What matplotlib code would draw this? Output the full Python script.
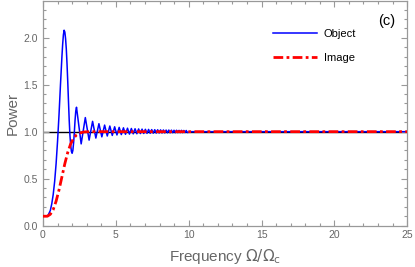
import numpy as np
import matplotlib
matplotlib.use("Agg")
import matplotlib.pyplot as plt
from matplotlib.ticker import MultipleLocator

# object: main lobe, then the fringe extrema
obj_x_start = [0.0, 0.2, 0.35, 0.5, 0.6, 0.7, 0.8, 0.9, 1.0, 1.1, 1.2, 1.25, 1.3, 1.35, 1.4, 1.45,
               1.5, 1.55, 1.6, 1.65, 1.7, 1.75, 1.8, 1.85, 1.9, 1.95, 2.0, 2.05, 2.1, 2.15, 2.2, 2.25]
obj_y_start = [0.10, 0.10, 0.11, 0.16, 0.23, 0.33, 0.47, 0.66, 0.90, 1.18, 1.50, 1.65, 1.80, 1.93, 2.03, 2.08,
               2.06, 1.99, 1.88, 1.72, 1.53, 1.32, 1.12, 0.96, 0.86, 0.79, 0.77, 0.80, 0.88, 0.99, 1.12, 1.22]
peak_x = [2.300, 2.905, 3.404, 3.839, 4.230, 4.587, 4.918, 5.229, 5.522, 5.800,
          6.066, 6.320, 6.564, 6.800, 7.028, 7.248, 7.463, 7.671, 7.873, 8.071,
          8.264, 8.452, 8.637, 8.817, 8.994, 9.167, 9.338, 9.505, 9.669, 9.831]
peak_y = [1.26, 1.15, 1.11, 1.085, 1.07, 1.06, 1.052, 1.046, 1.041, 1.037,
          1.034, 1.031, 1.029, 1.027, 1.025, 1.024, 1.022, 1.021, 1.020, 1.019,
          1.018, 1.017, 1.017, 1.016, 1.015, 1.015, 1.014, 1.014, 1.013, 1.013]
trough_x = [2.620, 3.165, 3.628, 4.039, 4.412, 4.756, 5.076, 5.377, 5.663, 5.934,
            6.194, 6.443, 6.683, 6.915, 7.139, 7.356, 7.567, 7.773, 7.973, 8.168,
            8.359, 8.545, 8.727, 8.906, 9.081, 9.253, 9.422, 9.587, 9.750, 9.910]
trough_y = [0.87, 0.91, 0.932, 0.945, 0.954, 0.96, 0.965, 0.969, 0.972, 0.974,
            0.977, 0.978, 0.980, 0.981, 0.982, 0.983, 0.984, 0.985, 0.986, 0.986,
            0.987, 0.988, 0.988, 0.989, 0.989, 0.990, 0.990, 0.990, 0.991, 0.991]
obj_x_end = [10.2, 25.0]
obj_y_end = [1.0, 1.0]

img_x = [0.0, 0.3, 0.5, 0.7, 0.9, 1.1, 1.3, 1.5, 1.7, 1.9, 2.1, 2.3, 2.5, 2.8, 3.2, 25.0]
img_y = [0.10, 0.10, 0.12, 0.17, 0.26, 0.38, 0.52, 0.66, 0.78, 0.87, 0.93, 0.965, 0.985, 0.997, 1.0, 1.0]

GRAY = "#666666"

def object_curve():
    fx = np.ravel(np.column_stack([peak_x, trough_x]))
    fy = np.ravel(np.column_stack([peak_y, trough_y]))
    x = np.concatenate([obj_x_start, fx, obj_x_end])
    y = np.concatenate([obj_y_start, fy, obj_y_end])
    return x, y

def main():
    plt.rcParams["font.family"] = ["Liberation Sans", "DejaVu Sans"]
    fig = plt.figure(figsize=(4.15, 2.67), dpi=100)
    ax = fig.add_axes([0.1036, 0.155, 0.8776, 0.843])

    ax.axhline(1.0, color="black", lw=1.0, zorder=1)
    ox, oy = object_curve()
    ax.plot(ox, oy, color="#0000ff", lw=1.1, label="Object", zorder=2)
    ax.plot(img_x, img_y, color="#ff0000", lw=2.0, ls=(0, (3.5, 1.2, 1, 1.2)),
            label="Image", zorder=3)

    ax.set_xlim(0, 25)
    ax.set_ylim(0, 2.396)
    ax.xaxis.set_major_locator(MultipleLocator(5))
    ax.xaxis.set_minor_locator(MultipleLocator(1))
    ax.yaxis.set_major_locator(MultipleLocator(0.5))
    ax.yaxis.set_minor_locator(MultipleLocator(0.1))
    ax.yaxis.set_major_formatter(plt.FormatStrFormatter("%.1f"))
    ax.tick_params(which="both", direction="in", top=True, right=True,
                   color="#999999", labelcolor=GRAY, labelsize=7.5, width=0.8)
    ax.tick_params(which="major", length=4)
    ax.tick_params(which="minor", length=2)
    for s in ax.spines.values():
        s.set_color("#999999")
        s.set_linewidth(0.9)

    ax.set_xlabel(r"Frequency $\Omega/\Omega_\mathrm{c}$", color=GRAY, fontsize=11,
                  labelpad=5)
    ax.set_ylabel("Power", color=GRAY, fontsize=11, labelpad=3)

    ax.legend(loc="upper left", bbox_to_anchor=(0.631, 0.875), frameon=False,
              fontsize=8, handlelength=4.0, handletextpad=0.6, borderpad=0,
              borderaxespad=0, labelspacing=1.25)
    ax.text(0.945, 0.91, "(c)", transform=ax.transAxes, fontsize=10.5, color="black",
            ha="center", va="center")

    fig.savefig("out.png", dpi=100)

if __name__ == "__main__":
    main()
